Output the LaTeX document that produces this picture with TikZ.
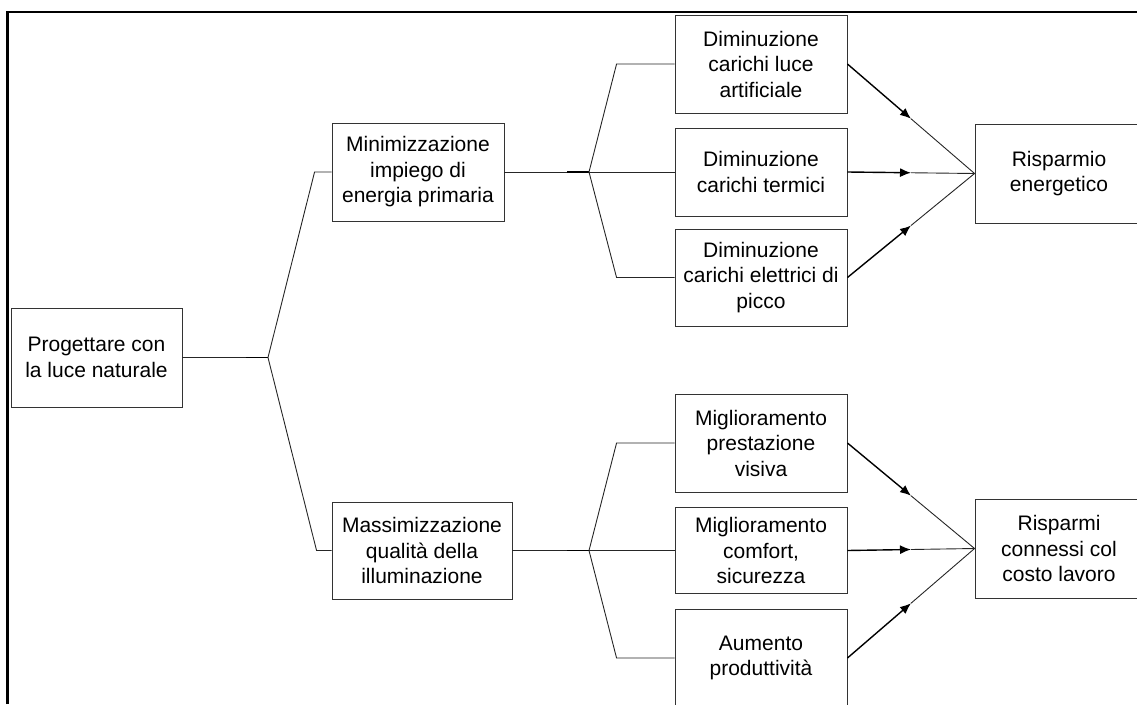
\documentclass[tikz,border=0pt]{standalone}
\usepackage{fontspec}
\setmainfont{Liberation Sans}
\usetikzlibrary{calc,arrows.meta}
\tikzset{
  box/.style={draw=black!80, line width=0.9pt, rectangle, inner sep=0pt, align=center,
    font=\fontsize{21}{25.5}\selectfont},
  conn/.style={draw=black!85, line width=0.9pt},
  stub/.style={draw=black, line width=1.8pt},
  arr/.style={draw=black, line width=1.4pt, -{Latex[length=11pt,width=9pt]}},
  frame/.style={draw=black, line width=2.2pt}
}
\begin{document}
\begin{tikzpicture}[x=1pt,y=-1pt]
\useasboundingbox (0,0) rectangle (1137,704);
% frame (only top and left sides visible)
\coordinate (fa) at (7.5,704);
\coordinate (fb) at (7.5,12);
\coordinate (fc) at (1140,12);
\draw[frame] (fa) -- (fb) -- (fc);

% boxes
\node[box, minimum width=171, minimum height=99] (root) at (96.5,357.5) {Progettare con\\la luce naturale};
\node[box, minimum width=172, minimum height=98] (mini) at (418,172) {Minimizzazione\\impiego di\\energia primaria};
\node[box, minimum width=180, minimum height=97] (massi) at (422,550.5) {Massimizzazione\\qualità della\\illuminazione};

\node[box, minimum width=172, minimum height=98] (b1) at (761,64) {Diminuzione\\carichi luce\\artificiale};
\node[box, minimum width=172, minimum height=88] (b2) at (761,172) {Diminuzione\\carichi termici};
\node[box, minimum width=172, minimum height=97] (b3) at (761,277.5) {Diminuzione\\carichi elettrici di\\picco};

\node[box, minimum width=172, minimum height=98] (b4) at (761,443) {Miglioramento\\prestazione\\visiva};
\node[box, minimum width=172, minimum height=86] (b5) at (761,550.5) {Miglioramento\\comfort,\\sicurezza};
\node[box, minimum width=172, minimum height=98] (b6) at (761,658) {Aumento\\produttività};

\node[box, minimum width=168, minimum height=99] (r1) at (1059,173.5) {Risparmio\\energetico};
\node[box, minimum width=168, minimum height=99] (r2) at (1059,548.5) {Risparmi\\connessi col\\costo lavoro};

% fork 1
\coordinate (f0) at (268,357.5);
\draw[conn] (root.east) -- (f0);
\draw[stub] ($(f0)+(-22,0)$) -- (f0);
\draw[conn] (f0) -- ($(mini.west)+(-17,0)$) -- (mini.west);
\draw[conn] (f0) -- ($(massi.west)+(-15,0)$) -- (massi.west);

% fork 2
\coordinate (f1) at (589,172);
\draw[conn] (mini.east) -- (f1);
\draw[stub] ($(f1)+(-22,0)$) -- (f1);
\draw[conn] (f1) -- ($(b1.west)+(-58,0)$) -- (b1.west);
\draw[conn] (f1) -- (b2.west);
\draw[conn] (f1) -- ($(b3.west)+(-58,0)$) -- (b3.west);

% fork 3
\coordinate (f2) at (589,550.5);
\draw[conn] (massi.east) -- (f2);
\draw[stub] ($(f2)+(-22,0)$) -- (f2);
\draw[conn] (f2) -- ($(b4.west)+(-58,0)$) -- (b4.west);
\draw[conn] (f2) -- (b5.west);
\draw[conn] (f2) -- ($(b6.west)+(-58,0)$) -- (b6.west);

% arrows to results
\foreach \s/\t in {b1/r1, b2/r1, b3/r1, b4/r2, b5/r2, b6/r2}{
  \draw[arr] (\s.east) -- ($(\s.east)!0.5!(\t.west)$);
  \draw[conn] ($(\s.east)!0.5!(\t.west)$) -- (\t.west);
}
\end{tikzpicture}
\end{document}
